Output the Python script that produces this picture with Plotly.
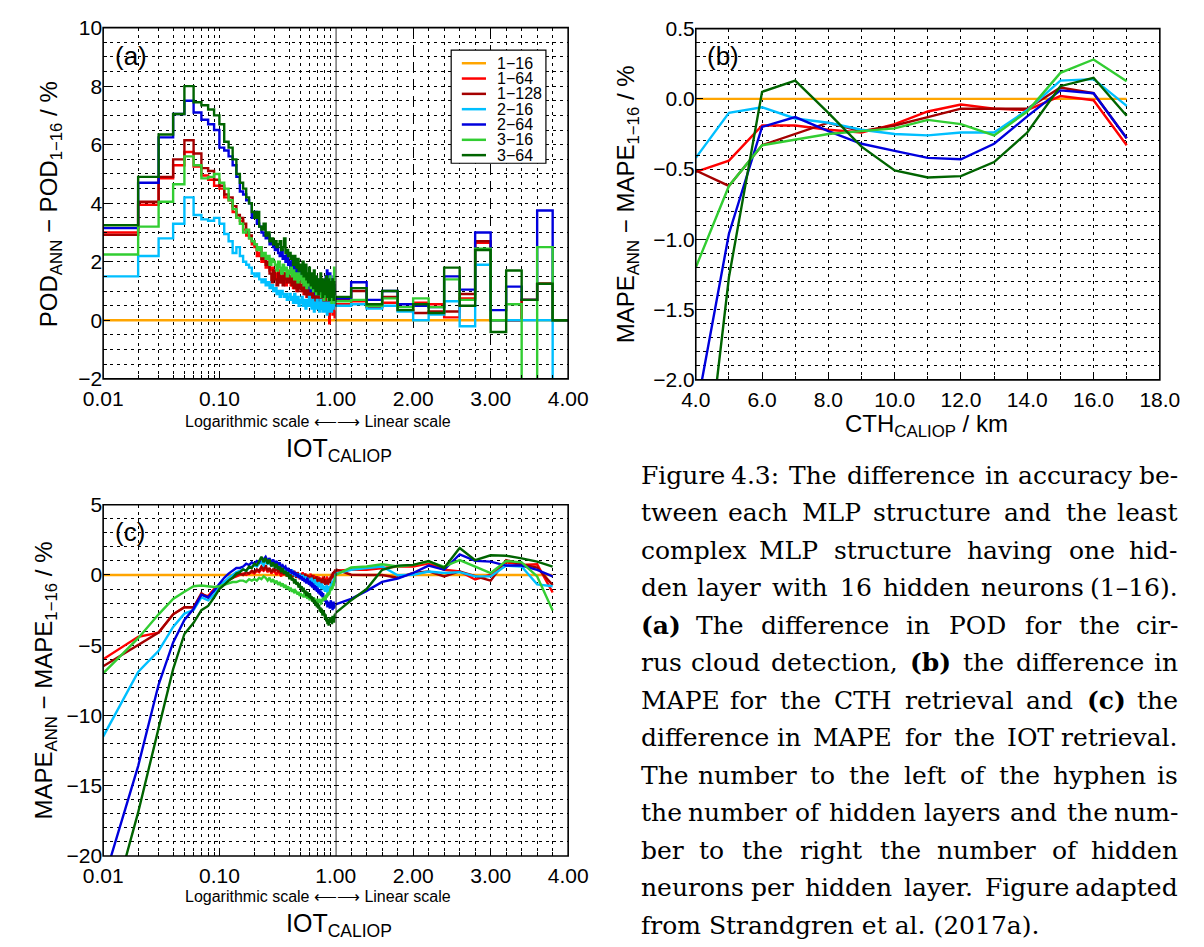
import plotly.graph_objects as go

W, H = 1204, 947

NAMES = ["1\u221216", "1\u221264", "1\u2212128", "2\u221216", "2\u221264", "3\u221216", "3\u221264"]
COLORS = ["#FFA500", "#FF0000", "#A40000", "#00BFFF", "#0000DD", "#32CD32", "#006400"]

# ---------------- panel (a): POD difference, bins of IOT ----------------
A_LOG_EDGES = [round(0.01 * i, 2) for i in range(1, 101)]          # 0.01 ... 1.00
A_LIN_EDGES = [round(1.0 + 0.2 * i, 1) for i in range(0, 16)]      # 1.0 ... 4.0

A_LOG_1_16 = [0.0] * 99
A_LOG_1_64 = [3.0, 3.95, 4.85, 5.3, 5.75, 5.25, 4.95, 4.8, 4.6,
              4.5, 4.2, 4.1, 3.7, 3.5, 3.4, 3.1, 2.9, 2.8, 2.6,
              2.5, 2.2, 2.3, 2.0, 2.1, 1.8, 1.9, 1.7, 1.8, 1.5,
              1.6, 1.4, 1.7, 1.3, 1.5, 1.6, 1.4, 1.2, 1.5, 1.3,
              1.4, 1.2, 1.5, 1.1, 1.3, 1.4, 1.0, 1.2, 1.3, 1.1,
              1.2, 1.0, 1.3, 0.9, 1.1, 1.2, 0.8, 1.0, 1.1, 0.9,
              1.0, 0.8, 1.1, 0.7, 0.9, 1.0, 0.6, 0.8, 0.9, 0.7,
              0.8, 0.6, 0.9, 0.5, 0.7, 0.8, 0.4, 0.7, 0.6, 0.8,
              0.6, 0.4, 0.7, 0.5, 0.8, 0.3, 0.6, 0.5, -0.1, 0.4,
              0.6, 0.3, 0.5, 0.7, 0.2, 0.4, 0.6, 0.3, 0.1, 0.3]
A_LOG_1_128 = [2.92, 4.05, 4.9, 5.5, 6.15, 5.7, 5.2, 5.1, 4.8,
               4.6, 4.3, 4.2, 3.9, 3.6, 3.5, 3.3, 3.0, 2.9, 2.7,
               2.6, 2.4, 2.5, 2.1, 2.2, 1.9, 2.0, 1.6, 1.3, 1.7,
               1.4, 1.2, 1.6, 1.3, 1.5, 1.2, 1.6, 1.4, 1.3, 1.5,
               1.3, 1.5, 1.2, 1.4, 1.1, 1.3, 1.2, 1.0, 1.3, 1.1,
               1.2, 1.0, 1.1, 1.3, 0.9, 1.1, 1.0, 0.8, 1.1, 0.9,
               1.0, 0.8, 1.0, 0.9, 0.7, 1.0, 0.8, 0.9, 0.6, 0.9,
               0.8, 0.6, 0.9, 0.7, 0.8, 0.5, 0.8, 0.7, 0.9, 0.6,
               0.7, 0.8, 0.5, 0.9, 0.6, 0.7, 0.4, 0.8, 0.6, 0.7,
               0.5, 0.8, 0.6, 0.7, 0.4, 0.9, 0.6, 0.5, 0.7, 0.6]
A_LOG_2_16 = [1.5, 2.2, 2.8, 3.3, 4.2, 3.6, 3.45, 3.4, 3.5,
              3.3, 2.95, 2.7, 2.3, 2.5, 2.2, 2.0, 1.9, 1.8, 1.6,
              1.5, 1.6, 1.4, 1.3, 1.4, 1.2, 1.3, 1.1, 1.2, 1.0,
              1.1, 0.9, 1.0, 0.8, 1.0, 0.9, 0.8, 0.9, 0.7, 0.8,
              0.9, 0.7, 0.8, 0.6, 0.9, 0.7, 0.6, 0.8, 0.5, 0.7,
              0.6, 0.8, 0.5, 0.7, 0.6, 0.4, 0.7, 0.5, 0.6, 0.8,
              0.5, 0.6, 0.4, 0.7, 0.5, 0.3, 0.6, 0.4, 0.5, 0.7,
              0.4, 0.6, 0.3, 0.5, 0.7, 0.4, 0.5, 0.3, 0.6, 0.4,
              0.5, 0.3, 0.6, 0.4, 0.2, 0.5, 0.4, 0.6, 0.3, 0.5,
              0.4, 0.6, 0.3, 0.5, 0.7, 0.4, 0.6, 0.5, 0.8, 0.6]
A_LOG_2_64 = [3.15, 4.7, 6.25, 7.05, 7.5, 7.1, 6.85, 6.7, 6.5,
              5.9, 5.8, 5.6, 5.3, 4.9, 4.4, 4.3, 4.1, 4.0, 3.5,
              3.7, 3.3, 3.2, 3.0, 2.9, 2.8, 2.9, 2.6, 2.7, 2.5,
              2.4, 2.6, 2.3, 2.2, 2.4, 2.1, 2.2, 2.0, 2.3, 1.9,
              2.0, 1.8, 2.1, 1.7, 1.9, 1.6, 1.8, 1.5, 1.7, 1.6,
              1.4, 1.7, 1.5, 1.3, 1.6, 1.2, 1.5, 1.4, 1.1, 1.5,
              1.3, 1.0, 1.4, 1.2, 1.5, 1.1, 1.3, 0.9, 1.2, 1.4,
              1.1, 1.3, 0.9, 1.2, 1.0, 1.4, 0.8, 1.1, 1.3, 0.9,
              1.2, 1.0, 1.5, 0.9, 1.7, 1.1, 0.8, 1.3, 1.0, 1.6,
              0.9, 1.2, 1.0, 1.4, 0.8, 1.1, 1.5, 0.9, 1.2, 1.0]
A_LOG_3_16 = [2.25, 3.2, 4.05, 4.65, 5.6, 5.3, 4.85, 4.9, 5.0,
              4.7, 4.5, 4.1, 3.8, 3.5, 3.3, 3.0, 3.1, 2.8, 2.7,
              2.6, 2.4, 2.5, 2.2, 2.3, 2.1, 2.2, 1.9, 2.1, 2.0,
              1.9, 1.7, 2.0, 1.8, 1.6, 1.9, 1.7, 1.8, 1.5, 1.7,
              1.6, 1.8, 1.5, 1.7, 1.4, 1.6, 1.5, 1.3, 1.6, 1.4,
              1.5, 1.3, 1.6, 1.2, 1.4, 1.5, 1.1, 1.4, 1.3, 1.2,
              1.4, 1.1, 1.3, 1.2, 1.0, 1.3, 1.1, 1.4, 0.9, 1.2,
              1.0, 1.3, 0.9, 1.1, 1.2, 0.8, 1.1, 1.0, 1.3, 0.7,
              1.1, 0.9, 1.2, 0.8, 1.0, 1.4, 0.7, 1.1, 0.9, 1.5,
              0.8, 1.2, 0.6, 1.0, 1.3, 0.7, 1.1, 1.8, 0.6, 0.9]
A_LOG_3_64 = [3.25, 4.9, 6.35, 7.05, 8.0, 7.45, 7.35, 7.2, 7.0,
              6.7, 6.1, 5.9, 5.5, 5.0, 4.7, 4.5, 4.2, 4.0, 3.7,
              3.5, 3.7, 3.2, 3.1, 3.3, 2.9, 3.0, 2.7, 2.8, 2.6,
              2.7, 2.5, 2.6, 2.7, 2.4, 2.5, 2.8, 2.3, 2.4, 2.2,
              2.3, 2.1, 2.2, 1.9, 2.2, 2.0, 1.8, 2.1, 1.7, 1.9,
              1.8, 1.6, 2.0, 1.5, 1.7, 1.9, 1.4, 1.6, 1.3, 1.8,
              1.5, 1.2, 1.6, 1.4, 1.1, 1.7, 1.3, 1.0, 1.5, 1.2,
              1.4, 0.9, 1.3, 1.1, 1.6, 1.0, 1.2, 0.8, 1.4, 1.1,
              0.9, 1.3, 1.0, 1.5, 0.8, 1.2, 0.9, 1.4, 0.7, 1.1,
              1.3, 0.8, 1.2, 0.9, 1.4, 1.0, 0.7, 1.3, 0.9, 1.1]

A_LIN_1_16 = [0.0] * 15
A_LIN_1_64 = [0.55, 0.65, 0.45, 0.6, 0.35, 0.6, 0.55, 0.1, 0.75, 2.65, 0.0, 0.0, 0.7, 1.25, 0.0]
A_LIN_1_128 = [0.7, 1.0, 0.45, 0.8, 0.35, 0.25, 0.3, 0.3, 0.9, 2.7, 0.0, 0.0, 0.7, 1.25, 0.0]
A_LIN_2_16 = [0.5, 0.55, 0.4, 0.5, 0.3, 0.0, 0.2, 0.65, -0.2, 1.9, 0.0, 0.0, 0.0, 0.0, -3.0]
A_LIN_2_64 = [0.75, 1.3, 0.7, 1.0, 0.55, 0.5, 0.45, 1.5, 1.05, 3.0, 0.35, 1.15, 0.7, 3.75, 0.0]
A_LIN_3_16 = [0.65, 0.7, 0.5, 0.75, 0.45, 0.75, 0.45, 1.4, 0.7, 2.45, 0.0, 0.55, -3.0, 2.5, 0.0]
A_LIN_3_64 = [0.8, 1.1, 0.55, 1.0, 0.35, 0.55, 0.25, 1.8, 0.5, 2.4, -0.4, 1.7, 0.7, 1.25, 0.0]

# ---------------- panel (b): MAPE difference vs CTH ----------------
B_CTH = [4, 5, 6, 7, 8, 9, 10, 11, 12, 13, 14, 15, 16, 17]
B_1_16 = [0.0] * 14
B_1_64 = [-0.52, -0.44, -0.19, -0.19, -0.22, -0.24, -0.18, -0.09, -0.04, -0.07, -0.08, 0.02, -0.01, -0.33]
B_1_128 = [-0.51, -0.62, -0.33, -0.25, -0.17, -0.23, -0.19, -0.13, -0.07, -0.07, -0.07, 0.08, 0.04, -0.28]
B_2_16 = [-0.42, -0.10, -0.06, -0.14, -0.17, -0.22, -0.25, -0.26, -0.24, -0.24, -0.08, 0.13, 0.14, -0.05]
B_2_64 = [-2.24, -0.96, -0.20, -0.13, -0.23, -0.32, -0.37, -0.42, -0.43, -0.32, -0.125, 0.06, 0.04, -0.28]
B_3_16 = [-1.20, -0.62, -0.33, -0.29, -0.25, -0.23, -0.21, -0.15, -0.18, -0.26, -0.09, 0.185, 0.28, 0.125]
B_3_64 = [-3.30, -1.27, 0.05, 0.13, -0.10, -0.34, -0.51, -0.56, -0.55, -0.45, -0.24, 0.09, 0.15, -0.12]

# ---------------- panel (c): MAPE difference vs IOT ----------------
C_LOG_X = [round(0.01 * i, 2) for i in range(1, 101)]     # 0.01 ... 1.00
C_LIN_X = [round(1.0 + 0.2 * i, 1) for i in range(0, 15)]  # 1.0 ... 3.8

C_LOG_1_16 = [0.0] * 100
C_LOG_1_64 = [-6.0, -4.4, -4.1, -2.8, -2.3, -2.3, -1.4, -1.5, -1.0,
              -0.8, -0.6, -0.4, -0.2, -0.1, 0.0, 0.1, 0.0, 0.1, 0.2,
              0.1, 0.3, 0.2, 0.4, 0.3, 0.5, 0.2, 0.4, 0.1, 0.3,
              0.2, 0.0, 0.3, 0.1, -0.1, 0.2, 0.0, 0.3, -0.1, 0.1,
              0.0, 0.2, -0.2, 0.1, -0.1, 0.2, -0.2, 0.0, 0.1, -0.3,
              0.0, -0.2, 0.2, -0.1, -0.3, 0.1, -0.2, 0.0, -0.4, -0.1,
              -0.2, 0.1, -0.3, -0.1, -0.4, 0.0, -0.3, -0.5, -0.1, -0.3,
              -0.4, -0.1, -0.5, -0.2, -0.3, -0.6, -0.2, -0.4, -0.1, -0.5,
              -0.3, -0.6, -0.2, -0.5, -0.1, -0.4, -0.7, -0.3, -0.5, -0.2,
              -0.4, -0.1, -0.3, 0.0, -0.2, 0.1, -0.1, 0.2, 0.0, 0.3,
              0.3]
C_LOG_1_128 = [-6.5, -5.0, -4.1, -2.8, -2.3, -2.3, -1.3, -1.6, -1.1,
               -0.8, -0.5, -0.3, -0.2, 0.0, 0.1, 0.0, 0.2, 0.1, 0.3,
               0.2, 0.4, 0.3, 0.6, 0.4, 0.7, 0.3, 0.5, 0.2, 0.4,
               0.3, 0.5, 0.2, 0.4, 0.1, 0.3, 0.0, 0.4, 0.2, 0.1,
               0.3, 0.0, 0.2, -0.1, 0.3, 0.1, -0.2, 0.2, 0.0, -0.1,
               0.1, -0.2, 0.0, -0.3, 0.1, -0.1, -0.4, 0.0, -0.2, -0.3,
               -0.1, -0.4, -0.2, 0.0, -0.5, -0.2, -0.3, -0.6, -0.1, -0.4,
               -0.3, -0.6, -0.2, -0.5, -0.4, -0.7, -0.3, -0.6, -0.2, -0.5,
               -0.6, -0.3, -0.7, -0.4, -0.8, -0.5, -0.3, -0.6, -0.4, -0.2,
               -0.5, -0.1, -0.3, 0.1, -0.2, 0.2, 0.0, 0.3, 0.1, 0.4,
               0.4]
C_LOG_2_16 = [-11.5, -6.9, -5.4, -3.7, -2.75, -2.5, -1.6, -1.8, -1.4,
              -0.8, -0.5, -0.2, 0.0, 0.2, 0.3, 0.4, 0.3, 0.5, 0.6,
              0.7, 0.6, 0.8, 0.9, 0.7, 1.0, 0.8, 0.9, 0.6, 0.8,
              0.7, 0.5, 0.8, 0.4, 0.6, 0.3, 0.5, 0.2, 0.4, 0.3,
              0.3, 0.1, 0.4, 0.0, 0.2, -0.1, 0.1, 0.0, -0.2, 0.1,
              -0.1, -0.3, 0.0, -0.2, -0.4, -0.1, -0.3, -0.5, -0.2, -0.4,
              -0.3, -0.5, -0.2, -0.6, -0.4, -0.7, -0.3, -0.6, -0.5, -0.8,
              -0.6, -0.9, -0.5, -0.8, -0.7, -1.0, -0.6, -0.9, -0.7, -1.1,
              -0.8, -1.2, -0.9, -1.0, -0.7, -1.3, -0.9, -1.1, -0.8, -1.2,
              -0.9, -0.6, -1.0, -0.7, -0.4, -0.8, -0.5, -0.2, -0.6, -0.1,
              0.1]
C_LOG_2_64 = [-21.9, -13.6, -7.8, -4.8, -3.2, -2.4, -1.4, -1.6, -1.1,
              -0.6, -0.2, 0.1, 0.3, 0.5, 0.5, 0.6, 0.8, 0.7, 0.9,
              0.8, 1.0, 0.9, 1.2, 1.1, 1.3, 1.0, 1.2, 0.9, 1.1,
              0.8, 1.0, 0.7, 0.9, 0.6, 0.7, 0.5, 0.6, 0.3, 0.5,
              0.2, 0.4, 0.1, 0.3, 0.0, 0.2, -0.1, 0.1, -0.2, 0.0,
              -0.3, -0.1, -0.4, -0.2, -0.5, -0.3, -0.6, -0.2, -0.5, -0.7,
              -0.4, -0.8, -0.5, -0.9, -0.6, -1.0, -0.7, -1.1, -0.8, -1.2,
              -0.9, -1.3, -1.0, -1.4, -1.1, -1.5, -1.2, -1.6, -1.3, -1.7,
              -1.5, -1.9, -1.6, -2.1, -1.8, -2.3, -1.9, -2.2, -2.0, -2.4,
              -2.1, -1.8, -2.3, -2.0, -2.5, -2.2, -1.9, -2.4, -2.1, -2.3,
              -2.1]
C_LOG_3_16 = [-7.0, -4.5, -2.8, -1.7, -1.2, -0.8, -0.75, -0.8, -0.85,
              -0.8, -0.7, -0.6, -0.5, -0.5, -0.4, -0.4, -0.5, -0.3, -0.4,
              -0.3, -0.4, -0.2, -0.3, -0.1, -0.2, -0.4, -0.2, -0.5, -0.3,
              -0.6, -0.4, -0.7, -0.5, -0.8, -0.6, -0.9, -0.7, -1.0, -0.8,
              -1.1, -0.9, -1.2, -1.0, -1.3, -1.1, -1.2, -1.4, -1.2, -1.5,
              -1.3, -1.5, -1.4, -1.6, -1.3, -1.6, -1.4, -1.7, -1.5, -1.6,
              -1.8, -1.5, -1.7, -1.6, -1.9, -1.6, -1.8, -1.7, -2.0, -1.7,
              -1.8, -2.0, -1.7, -1.9, -1.8, -2.1, -1.7, -1.9, -1.6, -1.8,
              -1.7, -1.5, -1.8, -1.4, -1.6, -1.3, -1.5, -1.2, -1.4, -1.1,
              -1.2, -0.9, -1.1, -0.8, -1.0, -0.6, -0.8, -0.4, -0.5, -0.2,
              0.0]
C_LOG_3_64 = [-26.0, -16.9, -10.9, -6.7, -4.2, -3.4, -2.5, -2.2, -1.6,
              -1.0, -0.7, -0.4, -0.2, 0.1, 0.2, 0.4, 0.3, 0.6, 0.5,
              0.8, 0.7, 1.0, 1.3, 0.9, 1.2, 0.8, 1.1, 0.6, 0.9,
              0.5, 0.8, 0.4, 0.6, 0.2, 0.5, 0.1, 0.3, -0.1, 0.2,
              -0.3, 0.0, -0.4, -0.2, -0.6, -0.3, -0.7, -0.5, -0.9, -0.6,
              -1.0, -0.8, -1.2, -0.9, -1.3, -1.1, -1.5, -1.2, -1.4, -1.6,
              -1.3, -1.7, -1.5, -1.9, -1.6, -2.0, -1.8, -2.2, -1.9, -2.3,
              -2.0, -2.4, -2.1, -2.6, -2.3, -2.7, -2.4, -2.9, -2.5, -2.8,
              -2.7, -3.1, -2.8, -3.3, -3.0, -3.5, -3.1, -3.6, -3.2, -3.4,
              -3.0, -3.4, -3.1, -3.5, -2.9, -3.3, -3.0, -3.4, -2.8, -3.1,
              -2.7]

C_LIN_1_16 = [0.0] * 15
C_LIN_1_64 = [0.3, 0.37, 0.37, 0.49, 0.6, 0.6, 0.83, 0.37, 0.25, -0.32, 0.02, 0.9, 0.72, 0.76, -1.25]
C_LIN_1_128 = [0.4, 0.02, 0.0, 0.0, -0.2, 0.14, 0.25, -0.1, 0.25, -0.1, -0.4, 1.06, 0.76, 0.53, -0.72]
C_LIN_2_16 = [0.1, 0.37, 0.49, 0.6, -0.02, 0.02, 0.25, 0.14, 0.2, -0.1, -0.1, 0.67, 0.6, -0.67, -0.8]
C_LIN_2_64 = [-2.1, -1.7, -1.13, -0.49, -0.25, 0.14, 0.67, 0.37, 1.46, 1.0, 0.95, 0.67, 0.67, 0.37, -0.1]
C_LIN_3_16 = [0.0, 0.53, 0.6, 0.76, 0.6, 0.72, 0.95, 0.6, 1.06, 0.6, 0.14, 1.0, 0.9, -0.1, -2.52]
C_LIN_3_64 = [-2.7, -1.8, -1.0, 0.37, 0.67, 0.72, 1.0, 0.5, 1.92, 1.06, 1.4, 1.37, 1.18, 0.95, 0.6]

A_LOG = [A_LOG_1_16, A_LOG_1_64, A_LOG_1_128, A_LOG_2_16, A_LOG_2_64, A_LOG_3_16, A_LOG_3_64]
A_LIN = [A_LIN_1_16, A_LIN_1_64, A_LIN_1_128, A_LIN_2_16, A_LIN_2_64, A_LIN_3_16, A_LIN_3_64]
B_ALL = [B_1_16, B_1_64, B_1_128, B_2_16, B_2_64, B_3_16, B_3_64]
C_LOG = [C_LOG_1_16, C_LOG_1_64, C_LOG_1_128, C_LOG_2_16, C_LOG_2_64, C_LOG_3_16, C_LOG_3_64]
C_LIN = [C_LIN_1_16, C_LIN_1_64, C_LIN_1_128, C_LIN_2_16, C_LIN_2_64, C_LIN_3_16, C_LIN_3_64]

LOG_MINOR = [0.02, 0.03, 0.04, 0.05, 0.06, 0.07, 0.08, 0.09,
             0.2, 0.3, 0.4, 0.5, 0.6, 0.7, 0.8, 0.9]
LIN_MINOR = [1.2, 1.4, 1.6, 1.8, 2.2, 2.4, 2.6, 2.8, 3.2, 3.4, 3.6, 3.8]

CAPTION = [
    "Figure 4.3: The difference in accuracy be-",
    "tween each MLP structure and the least",
    "complex MLP structure having one hid-",
    "den layer with 16 hidden neurons (1\u201316).",
    "<b>(a)</b> The difference in POD for the cir-",
    "rus cloud detection, <b>(b)</b> the difference in",
    "MAPE for the CTH retrieval and <b>(c)</b> the",
    "difference in MAPE for the IOT retrieval.",
    "The number to the left of the hyphen is",
    "the number of hidden layers and the num-",
    "ber to the right the number of hidden",
    "neurons per hidden layer. Figure adapted",
    "from Strandgren et al. (2017a).",
]

# ---------------- figure ----------------
fig = go.Figure()
LW = 2.4

for name, col, ylog, ylin in zip(NAMES, COLORS, A_LOG, A_LIN):
    fig.add_trace(go.Scatter(x=A_LOG_EDGES, y=ylog + [ylog[-1]], mode="lines",
                             line=dict(color=col, width=LW, shape="hv"),
                             xaxis="x", yaxis="y", name=name, showlegend=False))
    fig.add_trace(go.Scatter(x=A_LIN_EDGES, y=ylin + [ylin[-1]], mode="lines",
                             line=dict(color=col, width=LW, shape="hv"),
                             xaxis="x2", yaxis="y", name=name, showlegend=False))

for name, col, yb in zip(NAMES, COLORS, B_ALL):
    fig.add_trace(go.Scatter(x=B_CTH, y=yb, mode="lines", line=dict(color=col, width=LW),
                             xaxis="x3", yaxis="y2", name=name, showlegend=False))

for name, col, ylog, ylin in zip(NAMES, COLORS, C_LOG, C_LIN):
    fig.add_trace(go.Scatter(x=C_LOG_X, y=ylog, mode="lines", line=dict(color=col, width=LW),
                             xaxis="x4", yaxis="y3", name=name, showlegend=False))
    fig.add_trace(go.Scatter(x=C_LIN_X, y=ylin, mode="lines", line=dict(color=col, width=LW),
                             xaxis="x5", yaxis="y3", name=name, showlegend=False))

FONT = "Liberation Sans, Arial, Helvetica, sans-serif"
TICKFONT = dict(family=FONT, size=21, color="black")
DOT = "3px,4px"


def px(p):
    return p / W


def py(p):
    return 1 - p / H


def axis(**kw):
    d = dict(showgrid=True, gridcolor="black", gridwidth=1, griddash=DOT,
             zeroline=False, showline=False, ticks="inside", ticklen=7,
             tickwidth=1, tickcolor="black", tickfont=TICKFONT, fixedrange=True,
             tickmode="array")
    d.update(kw)
    return d


def minor(**kw):
    d = dict(showgrid=True, gridcolor="black", gridwidth=1, griddash=DOT,
             ticks="inside", ticklen=4, tickcolor="black")
    d.update(kw)
    return d


AL, AM, AR = 86, 326.5, 567
A_TOP, A_BOT = 16, 376
C_TOP, C_BOT = 505, 865
BL, BR, B_TOP, B_BOT = 699, 1179, 17, 377

fig.update_layout(
    width=W, height=H, margin=dict(l=0, r=0, t=0, b=0),
    paper_bgcolor="white", plot_bgcolor="white", showlegend=False,
    xaxis=axis(type="log", range=[-2, 0], domain=[px(AL), px(AM)], anchor="y",
               tickvals=[0.01, 0.1, 1.0], ticktext=["0.01", "0.10", "1.00"],
               minor=minor(tickvals=LOG_MINOR), ticklabelstandoff=5),
    xaxis2=axis(range=[1, 4], domain=[px(AM), px(AR)], anchor="y",
                tickvals=[2, 3, 4], ticktext=["2.00", "3.00", "4.00"], griddash="11px,6px",
                minor=minor(tickvals=LIN_MINOR), ticklabelstandoff=5),
    yaxis=axis(range=[-2, 10], domain=[py(A_BOT), py(A_TOP)], anchor="x",
               tickvals=[-2, 0, 2, 4, 6, 8, 10],
               ticktext=["\u22122", "0", "2", "4", "6", "8", "10"],
               minor=minor(dtick=0.5, tick0=0)),
    xaxis3=axis(range=[4, 18], domain=[px(BL), px(BR)], anchor="y2",
                tickvals=[4, 6, 8, 10, 12, 14, 16, 18],
                ticktext=["4.0", "6.0", "8.0", "10.0", "12.0", "14.0", "16.0", "18.0"],
                minor=minor(dtick=1, tick0=0), ticklabelstandoff=5),
    yaxis2=axis(range=[-2, 0.5], domain=[py(B_BOT), py(B_TOP)], anchor="x3",
                tickvals=[-2.0, -1.5, -1.0, -0.5, 0.0, 0.5],
                ticktext=["\u22122.0", "\u22121.5", "\u22121.0", "\u22120.5", "0.0", "0.5"],
                minor=minor(dtick=0.1, tick0=0)),
    xaxis4=axis(type="log", range=[-2, 0], domain=[px(AL), px(AM)], anchor="y3",
                tickvals=[0.01, 0.1, 1.0], ticktext=["0.01", "0.10", "1.00"],
                minor=minor(tickvals=LOG_MINOR), ticklabelstandoff=5),
    xaxis5=axis(range=[1, 4], domain=[px(AM), px(AR)], anchor="y3",
                tickvals=[2, 3, 4], ticktext=["2.00", "3.00", "4.00"],
                minor=minor(tickvals=LIN_MINOR), ticklabelstandoff=5),
    yaxis3=axis(range=[-20, 5], domain=[py(C_BOT), py(C_TOP)], anchor="x4",
                tickvals=[-20, -15, -10, -5, 0, 5],
                ticktext=["\u221220", "\u221215", "\u221210", "\u22125", "0", "5"],
                minor=minor(dtick=1, tick0=0)),
)

shapes = []
# frames
for (x0, x1, y0, y1) in [(AL, AR, A_TOP, A_BOT), (BL, BR, B_TOP, B_BOT), (AL, AR, C_TOP, C_BOT)]:
    shapes.append(dict(type="rect", xref="paper", yref="paper", x0=px(x0), x1=px(x1),
                       y0=py(y1), y1=py(y0), line=dict(color="black", width=1.6), layer="above"))
# solid separator at IOT = 1
shapes.append(dict(type="line", xref="x2", yref="y", x0=1, x1=1, y0=-2, y1=10,
                   line=dict(color="black", width=1.6), layer="above"))
shapes.append(dict(type="line", xref="x5", yref="y3", x0=1, x1=1, y0=-20, y1=5,
                   line=dict(color="black", width=1.6), layer="above"))

# manual legend in panel (a)
LEG_X0, LEG_X1, LEG_Y0, LEG_Y1 = 446, 544, 39, 155
shapes.append(dict(type="rect", xref="paper", yref="paper", x0=px(LEG_X0), x1=px(LEG_X1),
                   y0=py(LEG_Y1), y1=py(LEG_Y0), line=dict(color="black", width=1.2),
                   fillcolor="white", layer="above"))
annotations = []
for i, (name, col) in enumerate(zip(NAMES, COLORS)):
    yy = 52.5 + i * 15.7
    shapes.append(dict(type="line", xref="paper", yref="paper", x0=px(457), x1=px(482),
                       y0=py(yy), y1=py(yy), line=dict(color=col, width=2.5), layer="above"))
    annotations.append(dict(text=name, xref="paper", yref="paper", x=px(491), y=py(yy),
                            xanchor="left", yanchor="middle", showarrow=False,
                            height=15, valign="middle",
                            font=dict(family=FONT, size=16, color="black")))

fig.update_layout(shapes=shapes)


def ann(text, x, y, size, angle=0, family=FONT, xanchor="center"):
    annotations.append(dict(text=text, xref="paper", yref="paper", x=px(x), y=py(y),
                            xanchor=xanchor, yanchor="middle", showarrow=False, textangle=angle,
                            font=dict(family=family, size=size, color="black")))


# panel labels
ann("(a)", 115, 45, 26)
ann("(b)", 727, 45, 26)
ann("(c)", 114, 533, 26)

# axis titles
ann("POD<sub>ANN</sub> \u2212 POD<sub>1\u221216</sub> / %", 31, 197, 24, angle=-90)
ann("MAPE<sub>ANN</sub> \u2212 MAPE<sub>1\u221216</sub> / %", 628, 197, 24, angle=-90)
ann("MAPE<sub>ANN</sub> \u2212 MAPE<sub>1\u221216</sub> / %", 26, 685, 24, angle=-90)
ann("Logarithmic scale \u27f5\u27f6 Linear scale", 308, 420, 16)
ann("IOT<sub>CALIOP</sub>", 330, 449, 25)
ann("Logarithmic scale \u27f5\u27f6 Linear scale", 308, 907, 16)
ann("IOT<sub>CALIOP</sub>", 330, 936, 25)
ann("CTH<sub>CALIOP</sub> / km", 938, 424, 24)

# caption, justified word by word between x = 640 and x = 1200
CAP_FONT = "DejaVu Serif, serif"
CAP_SIZE = 25
CAP_L, CAP_R = 640, 1200
# approximate advance widths of DejaVu Serif, in em
EM = {' ': .318, '(': .390, ')': .390, ',': .318, '-': .338, '.': .318, ':': .337, '\u2013': .5}
EM.update({d: .636 for d in "0123456789"})
EM.update(dict(zip("ABCDEFGHIJKLMNOPQRSTUVWXYZ",
                   [.722, .735, .765, .802, .730, .694, .799, .872, .395, .401, .747, .664, 1.024,
                    .875, .820, .673, .820, .753, .685, .667, .843, .722, 1.028, .712, .660, .695])))
EM.update(dict(zip("abcdefghijklmnopqrstuvwxyz",
                   [.596, .640, .560, .640, .592, .370, .640, .644, .320, .310, .606, .320, .948,
                    .644, .602, .640, .640, .478, .513, .402, .644, .565, .856, .564, .565, .527])))


def est_width(word):
    bold = word.startswith("<b>")
    plain = word.replace("<b>", "").replace("</b>", "")
    w = sum(EM.get(c, .6) for c in plain) * CAP_SIZE
    return w * (1.15 if bold else 1.0)


for i, line in enumerate(CAPTION):
    yy = 475 + i * 38.4
    if i == len(CAPTION) - 1:
        ann(line, CAP_L, yy, CAP_SIZE, family=CAP_FONT, xanchor="left")
        continue
    words = line.split(" ")
    widths = [est_width(w) for w in words]
    gap = (CAP_R - CAP_L - sum(widths)) / (len(words) - 1)
    xcur = CAP_L
    for j, (w, wd) in enumerate(zip(words, widths)):
        if j == 0:
            ann(w, CAP_L, yy, CAP_SIZE, family=CAP_FONT, xanchor="left")
        elif j == len(words) - 1:
            ann(w, CAP_R, yy, CAP_SIZE, family=CAP_FONT, xanchor="right")
        else:
            ann(w, xcur + wd / 2, yy, CAP_SIZE, family=CAP_FONT, xanchor="center")
        xcur += wd + gap

fig.update_layout(annotations=annotations)

fig.write_html("out.html")
